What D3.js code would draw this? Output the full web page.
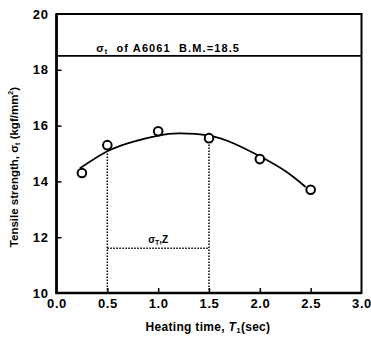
<!DOCTYPE html>
<html>
<head>
<meta charset="utf-8">
<script src="https://cdn.jsdelivr.net/npm/d3@7"></script>
<style>
  html, body { margin: 0; padding: 0; background: #fff; }
  svg { display: block; }
  text { font-family: "Liberation Sans", Arial, sans-serif; font-weight: bold; fill: #000; }
</style>
</head>
<body>
<svg id="chart" width="371" height="337"></svg>
<script>
// Measured tensile strength at each heating time
const heatTimes = [0.25, 0.5, 1.0, 1.5, 2.0, 2.5];
const strengths = [14.3, 15.3, 15.8, 15.55, 14.8, 13.7];

// Fitted trend curve
const fitTimes = [0.23, 0.5, 0.75, 1.0, 1.2, 1.5, 1.75, 2.0, 2.25, 2.45];
const fitStrengths = [14.47, 15.08, 15.42, 15.64, 15.72, 15.64, 15.35, 14.9, 14.37, 13.8];

// Base metal reference strength
const baseMetal = 18.5;

// Optimal range bracket
const rangeTimes = [0.5, 1.5];
const rangeTops = [15.06, 15.55];
const rangeLevel = 11.6;

const xTicks = [0.0, 0.5, 1.0, 1.5, 2.0, 2.5, 3.0];
const yTicks = [10, 12, 14, 16, 18, 20];

const svg = d3.select("#chart");
const x = d3.scaleLinear().domain([0, 3]).range([56.5, 361.5]);
const y = d3.scaleLinear().domain([10, 20]).range([293, 14]);

// Axes with inward ticks
const xAxis = d3.axisBottom(x).tickValues(xTicks).tickSize(-5).tickPadding(5)
  .tickFormat(d3.format(".1f"));
const yAxis = d3.axisLeft(y).tickValues(yTicks).tickSize(-5).tickPadding(8)
  .tickFormat(d3.format("d"));

const gx = svg.append("g").attr("transform", `translate(0,${y(10)})`).call(xAxis);
const gy = svg.append("g").attr("transform", `translate(${x(0)},0)`).call(yAxis);
[gx, gy].forEach(g => {
  g.select(".domain").remove();
  g.selectAll(".tick line").attr("stroke", "#000").attr("stroke-width", 1.5);
  g.selectAll(".tick text").attr("font-size", 13).attr("letter-spacing", 0.6);
});
gx.selectAll(".tick").filter(d => d === 0 || d === 3).select("line").remove();
gy.selectAll(".tick").filter(d => d === 10 || d === 20).select("line").remove();
gx.selectAll(".tick text").attr("dy", "0.8em");

// Frame
svg.append("rect")
  .attr("x", x(0)).attr("y", y(20))
  .attr("width", x(3) - x(0)).attr("height", y(10) - y(20))
  .attr("fill", "none").attr("stroke", "#000").attr("stroke-width", 2);
svg.append("path")
  .attr("d", `M${x(0)},${y(20)}V${y(10)}H${x(3)}`)
  .attr("fill", "none").attr("stroke", "#000").attr("stroke-width", 2.6);

// Base metal line and label
svg.append("line")
  .attr("x1", x(0)).attr("x2", x(3))
  .attr("y1", y(baseMetal)).attr("y2", y(baseMetal))
  .attr("stroke", "#000").attr("stroke-width", 1.8);
const bm = svg.append("text").attr("x", x(0.39)).attr("y", y(baseMetal) - 4)
  .attr("font-size", 11).attr("letter-spacing", 1.1).attr("xml:space", "preserve");
bm.append("tspan").text("σ");
bm.append("tspan").attr("font-size", 7).attr("dy", 2).text("t");
bm.append("tspan").attr("dy", -2).text("  of A6061  B.M.=" + baseMetal.toFixed(1));

// Dotted range bracket
const dotted = { stroke: "#000", "stroke-width": 1.5, "stroke-dasharray": "1.5,1.5" };
rangeTimes.forEach((t, i) => {
  const l = svg.append("line")
    .attr("x1", x(t)).attr("x2", x(t))
    .attr("y1", y(10)).attr("y2", y(rangeTops[i]));
  Object.entries(dotted).forEach(([k, v]) => l.attr(k, v));
});
const hl = svg.append("line")
  .attr("x1", x(rangeTimes[0])).attr("x2", x(rangeTimes[1]))
  .attr("y1", y(rangeLevel)).attr("y2", y(rangeLevel));
Object.entries(dotted).forEach(([k, v]) => hl.attr(k, v));
const rl = svg.append("text").attr("x", x(1.0)).attr("y", y(rangeLevel) - 5)
  .attr("text-anchor", "middle").attr("font-size", 10);
rl.append("tspan").text("σ");
rl.append("tspan").attr("font-size", 7).attr("dy", 2).text("T");
rl.append("tspan").attr("dy", -2).text(",Z");

// Trend curve
const line = d3.line().x(d => x(d[0])).y(d => y(d[1])).curve(d3.curveNatural);
svg.append("path")
  .datum(fitTimes.map((t, i) => [t, fitStrengths[i]]))
  .attr("d", line).attr("fill", "none").attr("stroke", "#000").attr("stroke-width", 1.8);

// Data points
svg.selectAll("circle.pt")
  .data(heatTimes.map((t, i) => [t, strengths[i]]))
  .join("circle").attr("class", "pt")
  .attr("cx", d => x(d[0])).attr("cy", d => y(d[1])).attr("r", 4.3)
  .attr("fill", "#fff").attr("stroke", "#000").attr("stroke-width", 2);

// Axis titles
const xt = svg.append("text").attr("x", 208).attr("y", 331)
  .attr("text-anchor", "middle").attr("font-size", 12).attr("letter-spacing", 0.3);
xt.append("tspan").text("Heating time, ");
xt.append("tspan").attr("font-style", "italic").text("T");
xt.append("tspan").attr("font-size", 8).attr("dy", 2).text("1");
xt.append("tspan").attr("dy", -2).text("(sec)");

const yt = svg.append("text")
  .attr("transform", "translate(18,167) rotate(-90)")
  .attr("text-anchor", "middle").attr("font-size", 11.5);
yt.append("tspan").text("Tensile strength, σ");
yt.append("tspan").attr("font-size", 7).attr("dy", 2).text("t");
yt.append("tspan").attr("dy", -2).text(" (kgf/mm");
yt.append("tspan").attr("font-size", 7).attr("dy", -5).text("2");
yt.append("tspan").attr("dy", 5).text(")");
</script>
</body>
</html>
